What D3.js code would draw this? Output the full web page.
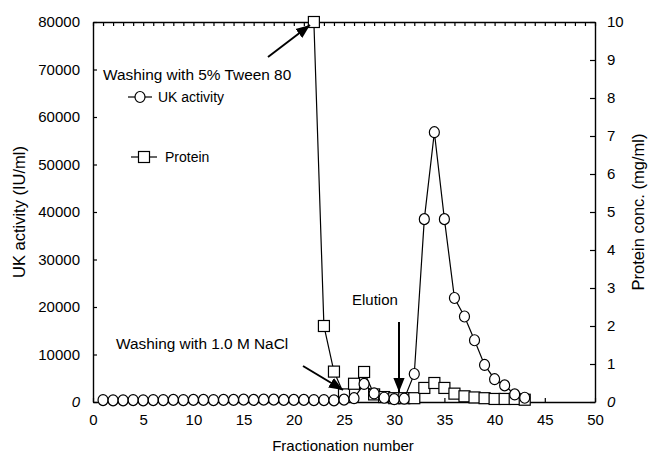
<!DOCTYPE html>
<html><head><meta charset="utf-8">
<script src="https://cdn.jsdelivr.net/npm/d3@7"></script>
<style>body{margin:0;background:#fff}svg{font-family:"Liberation Sans",Arial,sans-serif}</style>
</head><body>
<svg id="c" width="652" height="461"></svg>
<script>
const fractions = d3.range(1, 44);
const ukActivity = [400,350,350,400,350,400,400,450,400,450,450,400,450,450,500,450,500,500,450,450,450,400,400,350,
  500,800,3800,1800,900,600,700,5900,38500,56800,38500,21900,18000,13000,7800,4800,3500,1600,900];
const proteinFractions = d3.range(22, 44);
const protein = [10,2.0,0.8,0.2,0.48,0.79,0.2,0.13,0.1,0.1,0.1,0.37,0.5,0.37,0.22,0.15,0.12,0.1,0.08,0.08,0.08,0.06];
const xTicks = [0,5,10,15,20,25,30,35,40,45,50];
const yLeftTicks = [0,10000,20000,30000,40000,50000,60000,70000,80000];
const yRightTicks = [0,1,2,3,4,5,6,7,8,9,10];

const svg = d3.select("#c");
const L = 93, R = 595, T = 22, B = 402;
const x = d3.scaleLinear().domain([0,50]).range([L,R]);
const yL = d3.scaleLinear().domain([0,80000]).range([B,T]);
const yR = d3.scaleLinear().domain([0,10]).range([B,T]);
const fs = "15px";
const fmt = d3.format("d");

// axes
const gx = svg.append("g").attr("transform",`translate(0,${B})`)
  .call(d3.axisBottom(x).tickValues(xTicks).tickFormat(fmt).tickSizeInner(-4).tickSizeOuter(0).tickPadding(12));
const gxt = svg.append("g").attr("transform",`translate(0,${T})`)
  .call(d3.axisTop(x).ticks(50).tickSizeInner(-4).tickSizeOuter(0).tickFormat(""));
const gl = svg.append("g").attr("transform",`translate(${L},0)`)
  .call(d3.axisLeft(yL).tickValues(yLeftTicks).tickFormat(fmt).tickSizeInner(-4).tickSizeOuter(0).tickPadding(13));
const gr = svg.append("g").attr("transform",`translate(${R},0)`)
  .call(d3.axisRight(yR).tickValues(yRightTicks).tickFormat(fmt).tickSizeInner(-5).tickSizeOuter(0).tickPadding(12));
[gx,gxt,gl,gr].forEach(g=>{
  g.selectAll("path").attr("stroke","#000").attr("stroke-width",1.4);
  g.selectAll("line").attr("stroke","#000").attr("stroke-width",1.2);
  g.selectAll("text").attr("font-size",fs).attr("fill","#000").attr("font-family","Liberation Sans, Arial, sans-serif");
});
gl.selectAll(".tick text").filter(d=>d===0).attr("font-style","italic");
gr.selectAll(".tick text").filter(d=>d===0).attr("font-style","italic");

// axis titles
svg.append("text").attr("transform",`translate(25,212) rotate(-90)`).attr("text-anchor","middle")
  .attr("font-size","16.5px").text("UK activity (IU/ml)");
svg.append("text").attr("transform",`translate(644,212) rotate(-90)`).attr("text-anchor","middle")
  .attr("font-size","16.5px").text("Protein conc. (mg/ml)");
svg.append("text").attr("x",343).attr("y",451).attr("text-anchor","middle")
  .attr("font-size","15px").text("Fractionation number");

// protein line + squares
const pData = proteinFractions.map((f,i)=>({f,v:protein[i]}));
svg.append("path").datum(pData).attr("fill","none").attr("stroke","#000").attr("stroke-width",1.2)
  .attr("d",d3.line().x(d=>x(d.f)).y(d=>yR(d.v)));
svg.selectAll(".sq").data(pData).enter().append("rect")
  .attr("x",d=>x(d.f)-5.5).attr("y",d=>yR(d.v)-5.5).attr("width",11).attr("height",11)
  .attr("fill","#fff").attr("stroke","#000").attr("stroke-width",1.2);

// UK line + circles
const uData = fractions.map((f,i)=>({f,v:ukActivity[i]}));
svg.append("path").datum(uData).attr("fill","none").attr("stroke","#000").attr("stroke-width",1.2)
  .attr("d",d3.line().x(d=>x(d.f)).y(d=>yL(d.v)));
svg.selectAll(".ci").data(uData).enter().append("ellipse")
  .attr("cx",d=>x(d.f)).attr("cy",d=>yL(d.v)).attr("rx",5).attr("ry",5.5)
  .attr("fill","#fff").attr("stroke","#000").attr("stroke-width",1.2);

// legend
svg.append("line").attr("x1",128).attr("x2",152).attr("y1",97).attr("y2",97).attr("stroke","#000").attr("stroke-width",1.2);
svg.append("ellipse").attr("cx",140).attr("cy",97).attr("rx",5).attr("ry",5.5).attr("fill","#fff").attr("stroke","#000").attr("stroke-width",1.2);
svg.append("text").attr("x",158).attr("y",102).attr("font-size","14px").text("UK activity");
svg.append("line").attr("x1",131).attr("x2",157).attr("y1",157).attr("y2",157).attr("stroke","#000").attr("stroke-width",1.2);
svg.append("rect").attr("x",138.5).attr("y",151.5).attr("width",11).attr("height",11).attr("fill","#fff").attr("stroke","#000").attr("stroke-width",1.2);
svg.append("text").attr("x",165).attr("y",162).attr("font-size","14px").text("Protein");

// annotations
const defs = svg.append("defs");
defs.append("marker").attr("id","ah").attr("viewBox","0 0 10 10").attr("refX",10).attr("refY",5)
  .attr("markerWidth",7).attr("markerHeight",7).attr("markerUnits","strokeWidth").attr("orient","auto")
  .append("path").attr("d","M0,1 L10,5 L0,9 Z").attr("fill","#000");
function arrow(x1,y1,x2,y2){
  svg.append("line").attr("x1",x1).attr("y1",y1).attr("x2",x2).attr("y2",y2)
    .attr("stroke","#000").attr("stroke-width",2).attr("marker-end","url(#ah)");
}
svg.append("text").attr("x",103).attr("y",80).attr("font-size","15.4px").text("Washing with 5% Tween 80");
arrow(268,57,310,25);
svg.append("text").attr("x",116).attr("y",349).attr("font-size","15.4px").text("Washing with 1.0 M NaCl");
arrow(303,366,343,390);
svg.append("text").attr("x",352).attr("y",305).attr("font-size","15px").text("Elution");
arrow(399,322,399,392);
</script>
</body></html>
